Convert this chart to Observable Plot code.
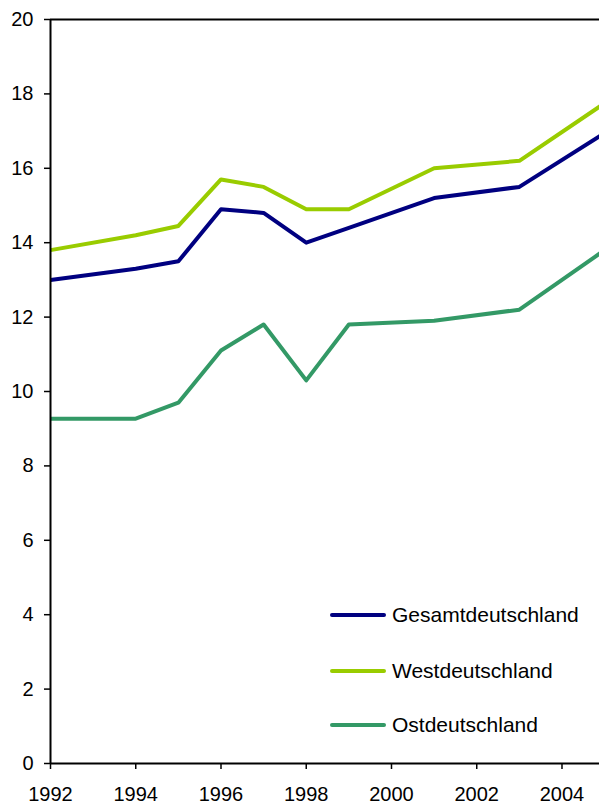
<!DOCTYPE html>
<html><head><meta charset="utf-8">
<script src="https://cdn.jsdelivr.net/npm/d3@7"></script>
<script src="https://cdn.jsdelivr.net/npm/@observablehq/plot@0.6"></script>
<style>
body{margin:0;background:#fff;}
#wrap{position:relative;width:599px;height:805px;font-family:"Liberation Sans",Arial,sans-serif;overflow:hidden;}
.leg{position:absolute;left:330px;height:0;font-size:21px;color:#000;white-space:nowrap;}
.leg span.sw{position:absolute;left:0;top:-2px;width:56px;height:4px;border-radius:2px;}
.leg span.tx{position:absolute;left:62px;top:-12px;line-height:24px;}
</style></head><body><div id="wrap"></div>
<script>
const years = [1992, 1994, 1995, 1996, 1997, 1998, 1999, 2001, 2003, 2005];
const gesamt = [13.0, 13.3, 13.5, 14.9, 14.8, 14.0, 14.4, 15.2, 15.5, 16.95];
const west = [13.8, 14.2, 14.45, 15.7, 15.5, 14.9, 14.9, 16.0, 16.2, 17.75];
const ost = [9.27, 9.27, 9.7, 11.1, 11.8, 10.3, 11.8, 11.9, 12.2, 13.8];
const seriesNames = ["Gesamtdeutschland", "Westdeutschland", "Ostdeutschland"];
const seriesColors = ["#000080", "#99CC00", "#339966"];
const xTicks = [1992, 1994, 1996, 1998, 2000, 2002, 2004];
const yTicks = [0, 2, 4, 6, 8, 10, 12, 14, 16, 18, 20];

const seriesValues = [gesamt, west, ost];
const data = [];
seriesNames.forEach((name, i) => {
  years.forEach((yr, j) => data.push({year: yr, value: seriesValues[i][j], series: name}));
});

const chart = Plot.plot({
  width: 599,
  height: 805,
  marginLeft: 50,
  marginRight: 0,
  marginTop: 19,
  marginBottom: 42,
  style: {fontFamily: '"Liberation Sans", Arial, sans-serif', fontSize: "20px", color: "#000", background: "#fff"},
  x: {domain: [1992, 2004.88], ticks: xTicks, tickFormat: d => String(d)},
  y: {domain: [0, 20], ticks: yTicks},
  color: {domain: seriesNames, range: seriesColors},
  marks: [
    Plot.axisX({ticks: xTicks, tickFormat: d => String(d), tickSize: 6, tickPadding: 17, stroke: "#000", strokeWidth: 1.5, label: null, fontSize: 20}),
    Plot.axisY({ticks: yTicks, tickSize: 6, tickPadding: 11, stroke: "#000", strokeWidth: 1.5, label: null, fontSize: 20}),
    Plot.line(data, {x: "year", y: "value", z: "series", stroke: "series", strokeWidth: 4, clip: true}),
    Plot.ruleY([0, 20], {stroke: "#000", strokeWidth: 2}),
    Plot.ruleX([1992], {stroke: "#000", strokeWidth: 2})
  ]
});
const wrap = document.getElementById("wrap");
wrap.appendChild(chart);

const legendY = [615, 671, 725];
seriesNames.forEach((name, i) => {
  const d = document.createElement("div");
  d.className = "leg";
  d.style.top = legendY[i] + "px";
  d.innerHTML = `<span class="sw" style="background:${seriesColors[i]}"></span><span class="tx">${name}</span>`;
  wrap.appendChild(d);
});
</script>
</body></html>
